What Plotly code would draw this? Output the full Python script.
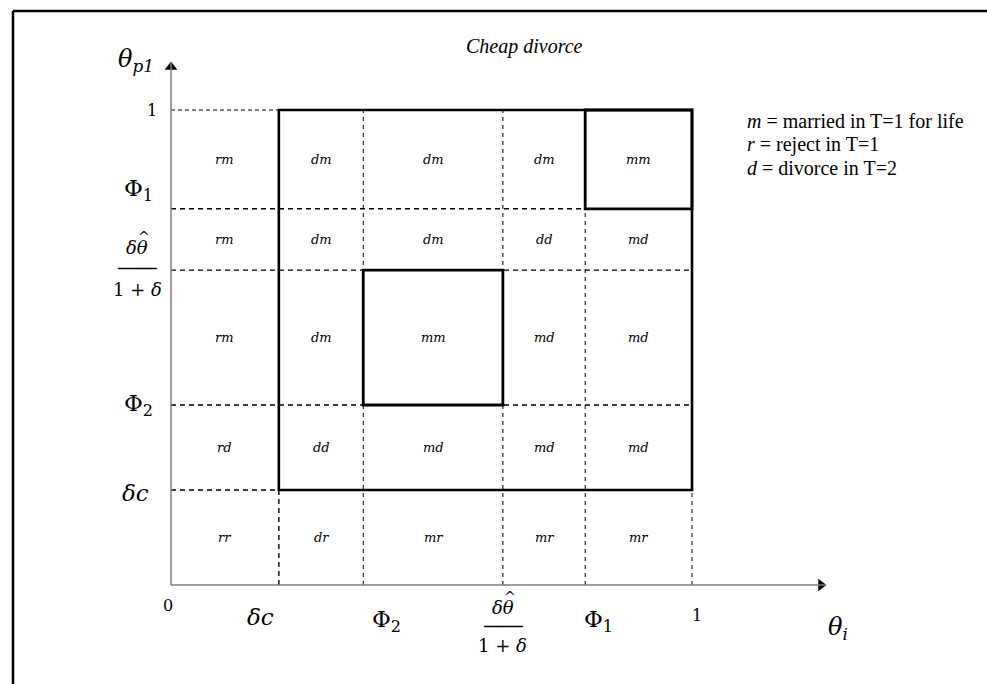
import plotly.graph_objects as go

# ---------------- data ----------------
x_bounds = [0.0, 0.207, 0.369, 0.637, 0.795, 1.0]   # 0, δc, Φ2, δθ̂/(1+δ), Φ1, 1
y_bounds = [0.0, 0.200, 0.379, 0.663, 0.792, 1.0]   # 0, δc, Φ2, δθ̂/(1+δ), Φ1, 1

x_tick_labels = ["0", "<i>δc</i>", "Φ<sub>2</sub>", "FRAC", "Φ<sub>1</sub>", "1"]
y_tick_labels = ["", "<i>δc</i>", "Φ<sub>2</sub>", "FRAC", "Φ<sub>1</sub>", "1"]

# cell labels, rows from bottom (0..δc) to top (Φ1..1), columns left to right
cell_labels = [
    ["rr", "dr", "mr", "mr", "mr"],
    ["rd", "dd", "md", "md", "md"],
    ["rm", "dm", "mm", "md", "md"],
    ["rm", "dm", "dm", "dd", "md"],
    ["rm", "dm", "dm", "dm", "mm"],
]

legend_lines = [
    "<i>m</i> = married in T=1 for life",
    "<i>r</i> = reject in T=1",
    "<i>d</i> = divorce in T=2",
]
title_text = "<i>Cheap divorce</i>"

# ---------------- layout frame ----------------
W, H = 987, 684
OX, OY = 171, 585          # pixel of origin
SX, SY = 521, 475          # pixels per unit


def fx(p):
    return (p - OX) / SX


def fy(p):
    return (OY - p) / SY


xr = [fx(0), fx(W)]
yr = [fy(H), fy(0)]

fig = go.Figure()
shapes = []
annots = []

BLACK = "black"
MATH = "DejaVu Serif"
SERIF = "Liberation Serif"

x0, xdc, xp2, xth, xp1, x1 = x_bounds
y0, ydc, yp2, yth, yp1, y1 = y_bounds


def line(xa, ya, xb, yb, width=1.0, dash="solid", color=BLACK):
    shapes.append(dict(type="line", xref="x", yref="y", x0=xa, y0=ya, x1=xb, y1=yb,
                       line=dict(color=color, width=width, dash=dash)))


# dashed guide lines
line(x0, y1, xdc, y1, 1.0, "4px,3px")
for yv in (yp1, yth, yp2):
    line(x0, yv, x1, yv, 1.4, "5px,4px")
line(x0, ydc, xdc, ydc, 1.4, "5px,4px")
line(xdc, y0, xdc, ydc, 1.4, "5px,4px")
for xv in (xp2, xth, xp1):
    line(xv, y0, xv, y1, 1.0, "4px,4px")
line(x1, y0, x1, ydc, 1.0, "4px,4px")

# axes
AX_GRAY = "#7f7f7f"
x_tip, y_tip = fx(826), fy(62)
line(x0, y0, x_tip, y0, 1.5, "solid", AX_GRAY)
line(x0, y0, x0, y_tip, 1.5, "solid", AX_GRAY)
fig.add_trace(go.Scatter(x=[x_tip - 5 / SX], y=[y0], mode="markers",
                         marker=dict(symbol="triangle-right", size=11, color=BLACK),
                         hoverinfo="skip", showlegend=False))
fig.add_trace(go.Scatter(x=[x0], y=[y_tip - 5 / SY], mode="markers",
                         marker=dict(symbol="triangle-up", size=11, color=BLACK),
                         hoverinfo="skip", showlegend=False))


# solid boxes
def rect(xa, ya, xb, yb, width=3):
    shapes.append(dict(type="rect", xref="x", yref="y", x0=xa, y0=ya, x1=xb, y1=yb,
                       line=dict(color=BLACK, width=width), fillcolor="rgba(0,0,0,0)"))


rect(xdc, ydc, x1, y1, 2.6)
rect(xp2, yp2, xth, yth, 2.8)
rect(xp1, yp1, x1, y1, 2.8)

# cell labels
for r, row in enumerate(cell_labels):
    yc = (y_bounds[r] + y_bounds[r + 1]) / 2
    for c, lab in enumerate(row):
        xc = (x_bounds[c] + x_bounds[c + 1]) / 2
        annots.append(dict(x=xc, y=yc, xref="x", yref="y", text=f"<i>{lab}</i>",
                           showarrow=False, font=dict(family=MATH, size=13, color=BLACK)))


def frac(x, y, xshift, yshift, size, gap):
    f = dict(family=MATH, size=size, color=BLACK)
    annots.append(dict(x=x, y=y, xref="x", yref="y", text="<i>δθ</i>", showarrow=False,
                       xshift=xshift, yshift=yshift + gap, font=f))
    # hat over theta
    annots.append(dict(x=x, y=y, xref="x", yref="y", text="^", showarrow=False,
                       xshift=xshift + 7, yshift=yshift + gap + 10,
                       font=dict(family=MATH, size=size - 4, color=BLACK)))
    annots.append(dict(x=x, y=y, xref="x", yref="y", text="1 + <i>δ</i>", showarrow=False,
                       xshift=xshift, yshift=yshift - gap, font=f))
    annots.append(dict(x=x, y=y, xref="x", yref="y", text="\u2500\u2500\u2500\u2500", showarrow=False,
                       xshift=xshift, yshift=yshift, font=dict(family=MATH, size=size - 2, color=BLACK)))


# y tick labels
y_xshift = [0, -36, -33, -34, -33, -19]
y_yshift = [0, -3, 0, 0, 19, 0]
y_sizes = [16, 23, 23, 18, 23, 16]
for lab, yv, xs, ys, sz in zip(y_tick_labels, y_bounds, y_xshift, y_yshift, y_sizes):
    if not lab:
        continue
    if lab == "FRAC":
        frac(x0, yv, -34, 2, sz, 21)
        continue
    annots.append(dict(x=x0, y=yv, xref="x", yref="y", text=lab, showarrow=False,
                       xshift=xs, yshift=ys, font=dict(family=MATH, size=sz, color=BLACK)))

# x tick labels
x_xshift = [-3, -18, 23, 0, 13, 5]
x_yshift = [-20, -32, -36, -41, -36, -30]
x_sizes = [16, 23, 23, 18, 23, 16]
for lab, xv, xs, ys, sz in zip(x_tick_labels, x_bounds, x_xshift, x_yshift, x_sizes):
    if lab == "FRAC":
        frac(xv, y0, xs, ys, sz, 19)
        continue
    annots.append(dict(x=xv, y=y0, xref="x", yref="y", text=lab, showarrow=False,
                       xshift=xs, yshift=ys, font=dict(family=MATH, size=sz, color=BLACK)))

# axis titles
annots.append(dict(x=fx(838), y=fy(628), xref="x", yref="y", text="<i>θ<sub>i</sub></i>",
                   showarrow=False, font=dict(family=MATH, size=24, color=BLACK)))
annots.append(dict(x=fx(136), y=fy(60), xref="x", yref="y", text="<i>θ<sub>p1</sub></i>",
                   showarrow=False, font=dict(family=MATH, size=24, color=BLACK)))

# title
annots.append(dict(x=fx(524), y=fy(46), xref="x", yref="y", text=title_text,
                   showarrow=False, font=dict(family=SERIF, size=20, color=BLACK)))

# legend
for i, t in enumerate(legend_lines):
    annots.append(dict(x=fx(745), y=fy(121 + 23.5 * i), xref="x", yref="y", text=t, xanchor="left",
                       showarrow=False, font=dict(family=SERIF, size=20, color=BLACK)))

# outer frame (top and left edges)
shapes.append(dict(type="line", xref="paper", yref="paper", x0=13 / W, y0=1 - 11 / H, x1=1, y1=1 - 11 / H,
                   line=dict(color=BLACK, width=2.5)))
shapes.append(dict(type="line", xref="paper", yref="paper", x0=13 / W, y0=1 - 11 / H, x1=13 / W, y1=0,
                   line=dict(color=BLACK, width=2.5)))

fig.update_layout(
    width=W, height=H,
    margin=dict(l=0, r=0, t=0, b=0),
    paper_bgcolor="white", plot_bgcolor="white",
    xaxis=dict(range=xr, visible=False, fixedrange=True),
    yaxis=dict(range=yr, visible=False, fixedrange=True),
    shapes=shapes, annotations=annots, showlegend=False,
)

fig.write_html("out.html", config={"displayModeBar": False},
               post_script="document.body.style.margin='0';document.body.style.overflow='hidden';")
